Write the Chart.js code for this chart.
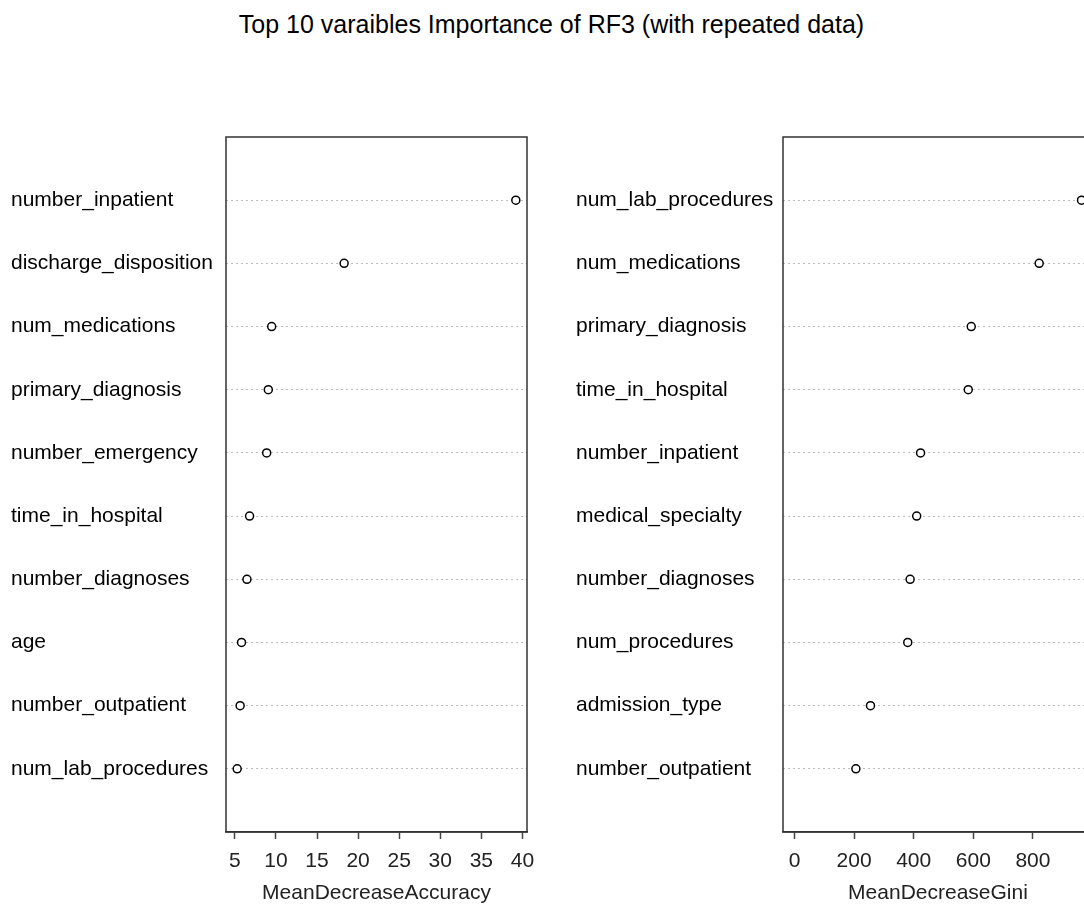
<!DOCTYPE html>
<html>
<head>
<meta charset="utf-8">
<script src="https://cdn.jsdelivr.net/npm/chart.js@4.4.1/dist/chart.umd.min.js"></script>
<style>
  html, body { margin: 0; padding: 0; background: #fff; overflow: hidden; width: 1084px; height: 906px; }
  #title { position: absolute; left: 0; width: 1103px; top: 9px; line-height: 30px; text-align: center;
           font-family: "Liberation Sans", Arial, sans-serif; font-size: 25px; color: #000; }
  canvas { position: absolute; top: 0; }
</style>
</head>
<body>
<div id="title">Top 10 varaibles Importance of RF3 (with repeated data)</div>
<canvas id="accChart" width="550" height="906" style="left:0"></canvas>
<canvas id="giniChart" width="560" height="906" style="left:560px"></canvas>
<script>
// variables listed top to bottom, as in the picture
const accLabels = ['number_inpatient', 'discharge_disposition', 'num_medications', 'primary_diagnosis',
  'number_emergency', 'time_in_hospital', 'number_diagnoses', 'age', 'number_outpatient', 'num_lab_procedures'];
const accValues = [39.2, 18.3, 9.48, 9.07, 8.87, 6.79, 6.47, 5.81, 5.64, 5.28];
const accTicks = [5, 10, 15, 20, 25, 30, 35, 40];

const giniLabels = ['num_lab_procedures', 'num_medications', 'primary_diagnosis', 'time_in_hospital',
  'number_inpatient', 'medical_specialty', 'number_diagnoses', 'num_procedures', 'admission_type', 'number_outpatient'];
const giniValues = [963, 821, 593, 583, 423, 410, 388, 380, 255, 206];
const giniTicks = [0, 200, 400, 600, 800];

const font = "'Liberation Sans', Arial, sans-serif";

// box round the plot area, like R's frame
const frame = {
  id: 'frame',
  afterDraw(chart) {
    const a = chart.chartArea, ctx = chart.ctx;
    ctx.save();
    ctx.strokeStyle = '#333';
    ctx.lineWidth = 1.5;
    ctx.strokeRect(a.left, a.top, a.right - a.left, a.bottom - a.top);
    ctx.restore();
  }
};

function dotChart(id, labels, values, ticks, xmin, xmax, xTitle, padLeft, yWidth, padRight) {
  const n = labels.length;
  const rows = labels.map((l, i) => n - i);
  new Chart(document.getElementById(id), {
    type: 'scatter',
    data: {
      datasets: [{
        data: values.map((v, i) => ({ x: v, y: n - i })),
        pointStyle: 'circle',
        pointRadius: 4,
        pointHoverRadius: 4,
        borderWidth: 1.5,
        borderColor: '#000',
        backgroundColor: '#fff'
      }]
    },
    options: {
      responsive: false,
      animation: false,
      layout: { padding: { left: padLeft, top: 137, right: padRight, bottom: 0 } },
      plugins: { legend: { display: false }, tooltip: { enabled: false } },
      scales: {
        x: {
          type: 'linear',
          min: xmin,
          max: xmax,
          afterBuildTicks: s => { s.ticks = ticks.map(v => ({ value: v })); },
          afterFit: s => { s.height = 74; },
          grid: { drawOnChartArea: false, drawTicks: true, tickLength: 7, color: '#444', tickWidth: 1.5 },
          border: { display: true, color: '#333', width: 1.5 },
          ticks: { color: '#222', padding: 10, font: { family: font, size: 21 }, maxRotation: 0, autoSkip: false },
          title: { display: true, text: xTitle, color: '#222', padding: { top: 0, bottom: 0 },
                   font: { family: font, size: 21 } }
        },
        y: {
          type: 'linear',
          min: 0,
          max: n + 1,
          afterBuildTicks: s => { s.ticks = rows.map(v => ({ value: v })); },
          afterFit: s => { s.width = yWidth; },
          grid: { color: '#bdbdbd', lineWidth: 1, drawTicks: false },
          border: { display: false, dash: [2, 3] },
          ticks: {
            crossAlign: 'far',
            padding: 0,
            color: '#000',
            autoSkip: false,
            font: { family: font, size: 21 },
            callback: v => labels[n - v]
          }
        }
      }
    },
    plugins: [frame]
  });
}

dotChart('accChart', accLabels, accValues, accTicks, 3.92, 40.56, 'MeanDecreaseAccuracy', 11, 215, 23);
dotChart('giniChart', giniLabels, giniValues, giniTicks, -38.5, 1001.5, 'MeanDecreaseGini', 16, 207, 27);
</script>
</body>
</html>
